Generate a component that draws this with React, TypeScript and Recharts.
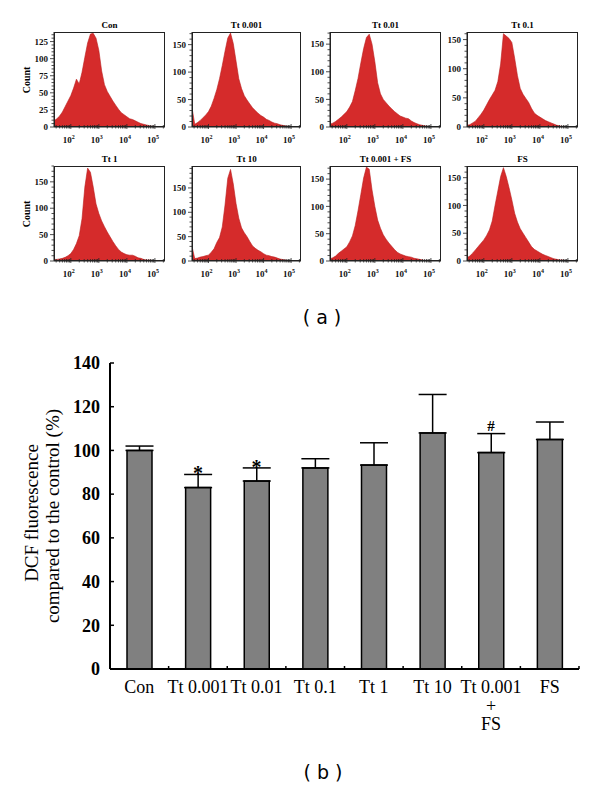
import React from "react";
import {
  Area,
  AreaChart,
  Bar,
  ComposedChart,
  ErrorBar,
  Scatter,
  XAxis,
  YAxis,
} from "recharts";

const SERIF = '"Liberation Serif", "DejaVu Serif", serif';

// (a) histogram bins, log10 of DCF intensity
const BINS = [
  1.4, 1.5, 1.6, 1.7, 1.8, 1.9, 2.0, 2.1, 2.2, 2.3, 2.4, 2.5, 2.6, 2.7, 2.8,
  2.9, 3.0, 3.1, 3.2, 3.3, 3.4, 3.5, 3.6, 3.7, 3.8, 3.9, 4.0, 4.1, 4.2, 4.3,
  4.4, 4.5, 4.6, 4.7, 4.8, 4.9, 5.0, 5.1, 5.2, 5.3,
];

const H_CON = [
  9, 12, 16, 22, 30, 38, 46, 57, 70, 63, 80, 102, 123, 136, 137, 130, 112, 82,
  62, 52, 45, 38, 32, 26, 21, 18, 15, 12, 11, 9, 7, 5, 4, 3, 2, 1, 1, 0, 0, 0,
];
const H_TT0001 = [
  35, 5, 8, 12, 17, 22, 28, 38, 52, 68, 88, 112, 138, 162, 171, 152, 120, 88,
  70, 57, 49, 42, 35, 30, 25, 21, 18, 14, 12, 9, 7, 6, 4, 3, 2, 1, 1, 0, 0, 0,
];
const H_TT001 = [
  5, 7, 10, 14, 18, 23, 28, 36, 46, 66, 88, 116, 142, 162, 168, 150, 118, 80,
  60, 50, 44, 38, 33, 28, 24, 20, 18, 16, 15, 11, 8, 6, 4, 3, 2, 1, 1, 0, 0, 0,
];
const H_TT01 = [
  3, 4, 7, 10, 16, 22, 29, 38, 47, 55, 63, 78, 108, 160, 156, 152, 145, 118,
  88, 66, 56, 49, 42, 32, 24, 20, 17, 14, 11, 9, 7, 5, 3, 2, 1, 1, 0, 0, 0, 0,
];
const H_TT1 = [
  3, 3, 4, 5, 7, 10, 14, 22, 33, 48, 80, 140, 176, 168, 140, 108, 90, 76, 65,
  55, 46, 37, 29, 22, 17, 14, 12, 11, 11, 9, 6, 5, 3, 2, 2, 1, 1, 0, 0, 0,
];
const H_TT10 = [
  30, 5, 6, 8, 9, 11, 12, 18, 25, 38, 48, 70, 115, 170, 188, 158, 118, 88, 68,
  58, 50, 40, 31, 26, 22, 19, 15, 12, 11, 9, 8, 6, 4, 3, 2, 1, 1, 0, 0, 0,
];
const H_TT0001_FS = [
  4, 6, 9, 14, 18, 22, 26, 35, 46, 65, 92, 122, 152, 172, 168, 130, 100, 75,
  60, 48, 40, 33, 27, 21, 16, 13, 11, 9, 8, 7, 5, 4, 3, 2, 1, 1, 0, 0, 0, 0,
];
const H_FS = [
  6, 9, 14, 20, 26, 32, 38, 46, 56, 72, 100, 126, 152, 168, 152, 132, 110, 86,
  70, 58, 50, 42, 34, 26, 21, 18, 15, 12, 10, 8, 6, 4, 3, 2, 2, 1, 1, 0, 0, 0,
];

const PANEL_TITLES = [
  "Con",
  "Tt 0.001",
  "Tt 0.01",
  "Tt 0.1",
  "Tt 1",
  "Tt 10",
  "Tt 0.001 + FS",
  "FS",
];
const PANEL_COUNTS = [
  H_CON,
  H_TT0001,
  H_TT001,
  H_TT01,
  H_TT1,
  H_TT10,
  H_TT0001_FS,
  H_FS,
];
const PANEL_YMAX = [139, 173, 172, 163, 180, 195, 174, 171];
const CON_TICKS = [0, 25, 50, 75, 100, 125];
const COUNT_TICKS = [0, 50, 100, 150];

const LOG_MAJOR = [2, 3, 4, 5];
const LOG_TICKS = [
  1.477, 1.602, 1.699, 1.778, 1.845, 1.903, 1.954, 2, 2.301, 2.477, 2.602,
  2.699, 2.778, 2.845, 2.903, 2.954, 3, 3.301, 3.477, 3.602, 3.699, 3.778,
  3.845, 3.903, 3.954, 4, 4.301, 4.477, 4.602, 4.699, 4.778, 4.845, 4.903,
  4.954, 5, 5.301,
];

// (b) DCF fluorescence, % of control
const GROUPS = [
  "Con",
  "Tt 0.001",
  "Tt 0.01",
  "Tt 0.1",
  "Tt 1",
  "Tt 10",
  "Tt 0.001\n+\nFS",
  "FS",
];
const MEANS = [100, 83, 86, 92, 93.3, 108, 99, 105];
const ERRS = [2, 6, 6, 4.2, 10.2, 17.6, 8.7, 8];
const MARKS = ["", "*", "*", "", "", "", "#", ""];
const B_TICKS = [0, 20, 40, 60, 80, 100, 120, 140];

const PLOT_LEFT = [54, 192, 330, 467];
const PLOT_W = [111, 109, 111, 111];
const PLOT_TOP = [32, 166];
const PLOT_H = 95;
const YW = 30;

function LogTick(props: any) {
  const { x, y, payload } = props;
  const v = payload.value;
  const major = LOG_MAJOR.includes(v);
  if (!major) {
    return <line x1={x} x2={x} y1={y - 2} y2={y + 1.5} stroke="#222" strokeWidth={0.8} />;
  }
  return (
    <g>
      <line x1={x} x2={x} y1={y - 3} y2={y + 2} stroke="#222" strokeWidth={0.8} />
      <text x={x - 2} y={y + 16} textAnchor="middle" fontFamily={SERIF} fontSize={9} fontWeight="bold" fill="#111">
        10
        <tspan dy={-4} fontSize={6}>
          {v}
        </tspan>
      </text>
    </g>
  );
}

function CountTick(props: any) {
  const { x, y, payload, major } = props;
  const isMajor = major.includes(payload.value);
  return (
    <g>
      <line x1={x - (isMajor ? 4 : 2.5)} x2={x} y1={y} y2={y} stroke="#222" strokeWidth={0.8} />
      {isMajor && (
        <text x={x - 6} y={y} dy="0.35em" textAnchor="end" fontFamily={SERIF} fontSize={9} fontWeight="bold" fill="#111">
          {payload.value}
        </text>
      )}
    </g>
  );
}

function Histogram({ index }: { index: number }) {
  const col = index % 4;
  const row = Math.floor(index / 4);
  const left = PLOT_LEFT[col];
  const w = PLOT_W[col];
  const top = PLOT_TOP[row];
  const yMax = PANEL_YMAX[index];
  const major = index === 0 ? CON_TICKS : COUNT_TICKS;
  const step = (major[1] - major[0]) / 5;
  const minor: number[] = [];
  for (let v = 0; v <= yMax; v += step) minor.push(v);
  const data = BINS.map((b, i) => ({ x: b, n: PANEL_COUNTS[index][i] }));

  return (
    <>
      <div
        style={{
          position: "absolute",
          left,
          width: w,
          top: top - 13,
          lineHeight: "12px",
          textAlign: "center",
          fontFamily: SERIF,
          fontSize: 9,
          fontWeight: "bold",
        }}>
        {PANEL_TITLES[index]}
      </div>
      {col === 0 && (
        <div
          style={{
            position: "absolute",
            left: left - 27 - 30,
            top: top + PLOT_H / 2 - 6,
            width: 60,
            lineHeight: "12px",
            textAlign: "center",
            transform: "rotate(-90deg)",
            fontFamily: SERIF,
            fontSize: 10,
            fontWeight: "bold",
          }}>
          Count
        </div>
      )}
      <div style={{ position: "absolute", left: left - YW, top: top - 2 }}>
        <AreaChart
          width={YW + w + 4}
          height={2 + PLOT_H + 22}
          data={data}
          margin={{ top: 2, right: 4, bottom: 0, left: 0 }}>
          <XAxis
            dataKey="x"
            type="number"
            domain={[1.4, 5.36]}
            ticks={LOG_TICKS}
            interval={0}
            tick={<LogTick />}
            tickLine={false}
            tickSize={0}
            tickMargin={0}
            axisLine={{ stroke: "#222" }}
            height={22}
            allowDataOverflow
          />
          <YAxis
            type="number"
            domain={[0, yMax]}
            ticks={minor}
            interval={0}
            tick={(p: any) => <CountTick {...p} major={major} />}
            tickLine={false}
            tickSize={0}
            tickMargin={0}
            axisLine={{ stroke: "#222" }}
            width={YW}
            allowDataOverflow
          />
          <Area
            dataKey="n"
            type="linear"
            fill="#d52b2b"
            fillOpacity={1}
            stroke="#bb1d1d"
            strokeWidth={0.6}
            dot={false}
            activeDot={false}
            isAnimationActive={false}
          />
        </AreaChart>
        <div
          style={{
            position: "absolute",
            left: YW,
            top: 2,
            width: w,
            height: PLOT_H,
            border: "1px solid #222",
            boxSizing: "border-box",
            pointerEvents: "none",
          }}
        />
      </div>
    </>
  );
}

const BAND = 469 / 8;

function GroupTick(props: any) {
  const { x, y, payload } = props;
  const lines = String(payload.value).split("\n");
  return (
    <g>
      <line x1={x + BAND / 2} x2={x + BAND / 2} y1={y} y2={y - 3} stroke="#000" strokeWidth={1.5} />
      <text textAnchor="middle" fontFamily={SERIF} fontSize={18} fill="#000">
        {lines.map((l, i) => (
          <tspan key={i} x={x} y={y + 24 + i * 18.5}>
            {l}
          </tspan>
        ))}
      </text>
    </g>
  );
}

function PctTick(props: any) {
  const { x, y, payload } = props;
  return (
    <g>
      <line x1={x} x2={x + 4} y1={y} y2={y} stroke="#000" strokeWidth={1.5} />
      <text x={x - 10} y={y} dy="0.35em" textAnchor="end" fontFamily={SERIF} fontSize={18} fontWeight="bold" fill="#000">
        {payload.value}
      </text>
    </g>
  );
}

function MarkShape(props: any) {
  const { cx, cy, payload } = props;
  if (!payload.mark) return <g />;
  const star = payload.mark === "*";
  return (
    <text
      x={cx}
      y={star ? cy + 6 : cy - 3}
      textAnchor="middle"
      fontFamily={SERIF}
      fontSize={star ? 20 : 15}
      fontWeight="bold"
      fill="#000">
      {payload.mark}
    </text>
  );
}

export default function App() {
  const barData = GROUPS.map((g, i) => ({
    name: g,
    mean: MEANS[i],
    err: [0, ERRS[i]],
    mark: MARKS[i],
    markY: MARKS[i] ? MEANS[i] + ERRS[i] : null,
  }));

  return (
    <div
      style={{
        position: "absolute",
        left: 0,
        top: 0,
        width: 600,
        height: 787,
        background: "#fff",
        overflow: "hidden",
      }}>
      {PANEL_TITLES.map((_, i) => (
        <Histogram key={i} index={i} />
      ))}

      <div
        style={{
          position: "absolute",
          left: 272,
          width: 100,
          top: 306,
          lineHeight: "22px",
          textAlign: "center",
          fontFamily: '"DejaVu Sans", sans-serif',
          fontSize: 19,
        }}>
        ( a )
      </div>

      <div style={{ position: "absolute", left: 0, top: 340 }}>
        <ComposedChart
          width={600}
          height={409}
          data={barData}
          margin={{ top: 23, right: 21, left: 0, bottom: 0 }}>
          <XAxis
            dataKey="name"
            interval={0}
            tick={<GroupTick />}
            tickLine={false}
            tickSize={0}
            tickMargin={0}
            axisLine={{ stroke: "#000", strokeWidth: 2 }}
            height={80}
          />
          <YAxis
            type="number"
            domain={[0, 140]}
            ticks={B_TICKS}
            interval={0}
            tick={<PctTick />}
            tickLine={false}
            tickSize={0}
            tickMargin={0}
            axisLine={{ stroke: "#000", strokeWidth: 2 }}
            width={110}
          />
          <Bar
            dataKey="mean"
            fill="#808080"
            stroke="#000"
            strokeWidth={1.5}
            barSize={25}
            isAnimationActive={false}>
            <ErrorBar
              dataKey="err"
              width={14}
              stroke="#000"
              strokeWidth={1.5}
              direction="y"
            />
          </Bar>
          <Scatter
            dataKey="markY"
            shape={<MarkShape />}
            isAnimationActive={false}
          />
        </ComposedChart>
      </div>

      <div
        style={{
          position: "absolute",
          left: 31.7 - 150,
          width: 300,
          top: 513 - 11,
          lineHeight: "22px",
          textAlign: "center",
          transform: "rotate(-90deg)",
          fontFamily: SERIF,
          fontSize: 19,
          whiteSpace: "nowrap",
        }}>
        DCF fluorescence
      </div>
      <div
        style={{
          position: "absolute",
          left: 53.3 - 150,
          width: 300,
          top: 516 - 11,
          lineHeight: "22px",
          textAlign: "center",
          transform: "rotate(-90deg)",
          fontFamily: SERIF,
          fontSize: 19,
          whiteSpace: "nowrap",
        }}>
        compared to the control (%)
      </div>

      <div
        style={{
          position: "absolute",
          left: 273,
          width: 100,
          top: 761,
          lineHeight: "22px",
          textAlign: "center",
          fontFamily: '"DejaVu Sans", sans-serif',
          fontSize: 19,
        }}>
        ( b )
      </div>
    </div>
  );
}
